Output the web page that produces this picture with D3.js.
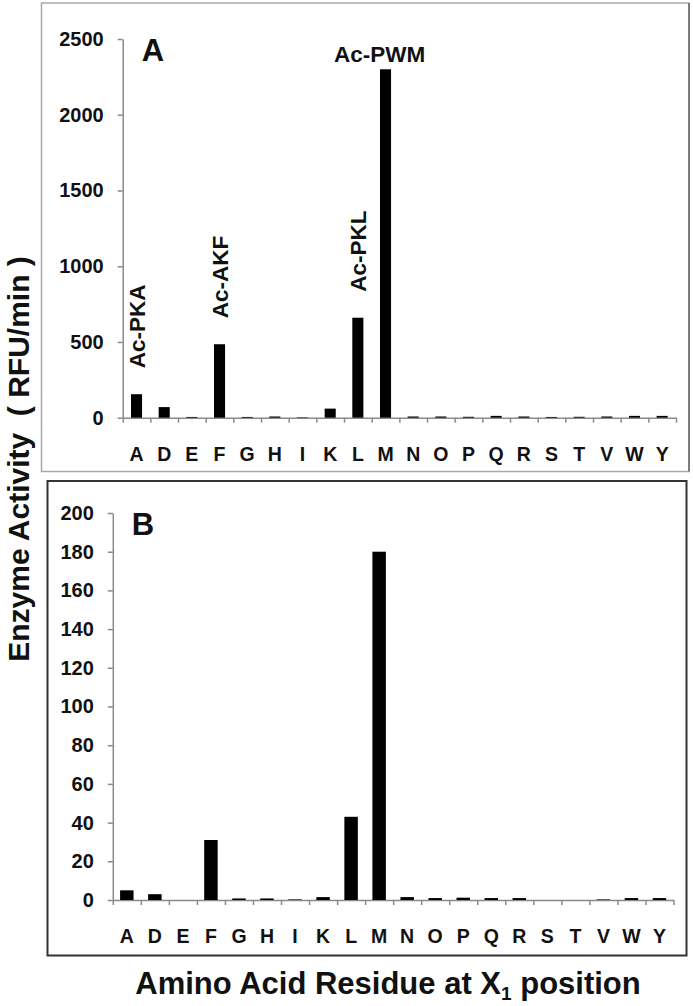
<!DOCTYPE html>
<html>
<head>
<meta charset="utf-8">
<script src="https://cdn.jsdelivr.net/npm/d3@7"></script>
<style>
  body { margin: 0; background: #fff; }
  text { font-family: "Liberation Sans", Arial, sans-serif; font-weight: bold; }
</style>
</head>
<body>
<script>
"use strict";

// Data

let residues = ["A", "D", "E", "F", "G", "H", "I", "K", "L", "M",
                "N", "O", "P", "Q", "R", "S", "T", "V", "W", "Y"];

let activityA = [155, 70, 5, 485, 5, 8, 3, 60, 660, 2300,
                 8, 8, 6, 12, 8, 5, 6, 8, 12, 12];

let activityB = [5, 3, 0, 31, 0.8, 0.8, 0.3, 1.5, 43, 180,
                 1.5, 1, 1.2, 1, 1, 0, 0, 0.3, 1, 1];

let ticksA = [0, 500, 1000, 1500, 2000, 2500];
let ticksB = [0, 20, 40, 60, 80, 100, 120, 140, 160, 180, 200];

let peptidesA = [
    {residue: "A", label: "Ac-PKA"},
    {residue: "F", label: "Ac-AKF"},
    {residue: "L", label: "Ac-PKL"},
    {residue: "M", label: "Ac-PWM"}
];

let yTitle = "Enzyme Activity  ( RFU/min )";

// Layout

let svg = d3.select("body")
    .append("svg")
    .attr("width", 693)
    .attr("height", 1006);

// panel frames
svg.append("rect")
    .attr("x", 41.5).attr("y", 3)
    .attr("width", 647.5).attr("height", 468.5)
    .attr("fill", "none")
    .attr("stroke", "#a8a8a8")
    .attr("stroke-width", 1.5);

svg.append("line")
    .attr("x1", 689).attr("x2", 689)
    .attr("y1", 3).attr("y2", 471.5)
    .attr("stroke", "#666")
    .attr("stroke-width", 1.5);

svg.append("rect")
    .attr("x", 47.5).attr("y", 481)
    .attr("width", 639).attr("height", 474.5)
    .attr("fill", "none")
    .attr("stroke", "#333")
    .attr("stroke-width", 2);

function drawPanel(values, ticks, yMax, box, letter, letterY, barPad) {
    let x = d3.scaleBand()
        .domain(residues)
        .range([box.left, box.right])
        .paddingInner(barPad)
        .paddingOuter(barPad / 2);

    let xEdge = d3.scaleLinear()
        .domain([0, residues.length])
        .range([box.left, box.right]);

    let y = d3.scaleLinear()
        .domain([0, yMax])
        .range([box.bottom, box.top]);

    let g = svg.append("g");

    // y axis
    g.append("g")
        .attr("transform", `translate(${box.left}, 0)`)
        .call(d3.axisLeft(y).tickValues(ticks).tickFormat(d3.format("d"))
            .tickSize(5).tickPadding(14).tickSizeOuter(0));

    // x axis: boundary ticks
    g.append("g")
        .attr("transform", `translate(0, ${box.bottom})`)
        .call(d3.axisBottom(xEdge).tickValues(d3.range(residues.length + 1))
            .tickSize(5).tickSizeOuter(0).tickFormat(""));

    // x axis: category labels
    let xl = g.append("g")
        .attr("transform", `translate(0, ${box.bottom})`)
        .call(d3.axisBottom(x).tickSize(0).tickPadding(29));

    xl.select(".domain").remove();

    g.selectAll(".domain, .tick line")
        .attr("stroke", "#8a8a8a")
        .attr("stroke-width", 1.5);

    g.selectAll(".tick text")
        .attr("fill", "#111")
        .style("font-family", "'Liberation Sans', Arial, sans-serif")
        .style("font-weight", "bold")
        .style("font-size", "20px");

    xl.selectAll(".tick text")
        .style("font-size", "19.5px");

    // bars
    g.selectAll("rect.bar")
        .data(values)
        .join("rect")
        .attr("class", "bar")
        .attr("x", (d, i) => x(residues[i]))
        .attr("y", d => y(d))
        .attr("width", x.bandwidth())
        .attr("height", d => box.bottom - y(d))
        .attr("fill", "#000");

    // panel letter
    g.append("text")
        .attr("x", box.left + 19)
        .attr("y", letterY)
        .style("font-size", "31px")
        .attr("fill", "#111")
        .text(letter);

    return {x: x, y: y};
}

let panelA = drawPanel(activityA, ticksA, 2500,
    {left: 122.7, right: 676, top: 39, bottom: 417.7}, "A", 61, 0.6);

let panelB = drawPanel(activityB, ticksB, 200,
    {left: 112.8, right: 673.5, top: 513, bottom: 900}, "B", 535, 0.52);

// peptide labels on panel A
let maxA = d3.max(activityA);
peptidesA.forEach(p => {
    let i = residues.indexOf(p.residue);
    let cx = panelA.x(p.residue) + panelA.x.bandwidth() / 2;
    let top = panelA.y(activityA[i]);
    let t = svg.append("text")
        .attr("fill", "#111")
        .style("font-size", "22.5px")
        .text(p.label);
    if (activityA[i] === maxA) {
        t.attr("x", cx - 6)
            .attr("y", top - 7.5)
            .attr("text-anchor", "middle");
    } else {
        t.attr("transform", `translate(${cx + 8}, ${top - 26}) rotate(-90)`)
            .attr("text-anchor", "start");
    }
});

// axis titles
svg.append("text")
    .attr("transform", "translate(28.5, 459) rotate(-90)")
    .attr("text-anchor", "middle")
    .attr("fill", "#111")
    .style("font-size", "30px")
    .style("white-space", "pre")
    .text(yTitle);

let xt = svg.append("text")
    .attr("x", 388)
    .attr("y", 994)
    .attr("text-anchor", "middle")
    .attr("fill", "#111")
    .style("font-size", "31px");

xt.append("tspan").text("Amino Acid Residue at X");
xt.append("tspan").attr("dy", 6).style("font-size", "19px").text("1");
xt.append("tspan").attr("dy", -6).text(" position");
</script>
</body>
</html>
